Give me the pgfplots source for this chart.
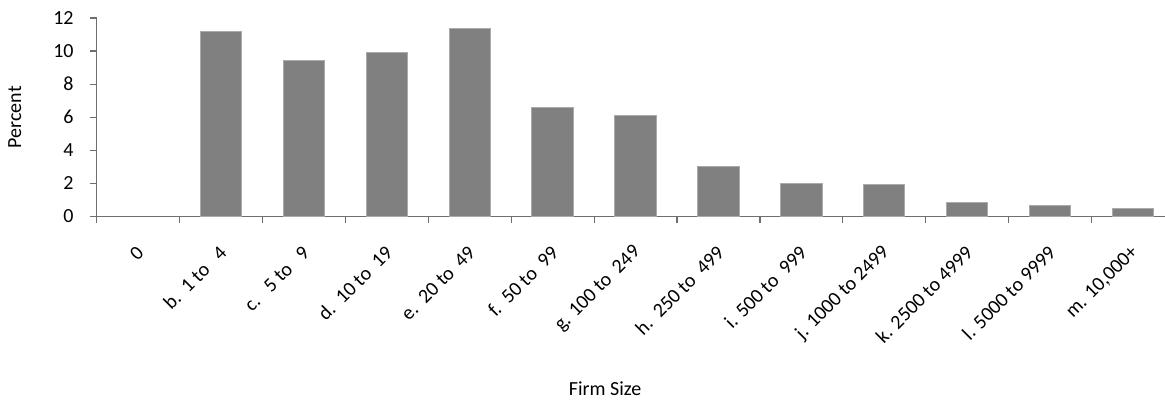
\documentclass[border=0pt]{standalone}
\usepackage{fontspec}
\setmainfont{Carlito}
\usepackage{pgfplots}
\pgfplotsset{compat=1.18}

\definecolor{barfill}{RGB}{128,128,128}
\definecolor{baredge}{RGB}{170,170,170}
\definecolor{axisgray}{RGB}{110,110,110}

\begin{document}
\begin{tikzpicture}
% page frame: the reference crops the axis on the right
\path[use as bounding box] (-48.35pt,-96pt) rectangle (534.15pt,108.2pt);
\begin{axis}[
  scale only axis,
  at={(0,0)}, anchor=south west,
  width=538.85pt, height=99.2pt,
  xmin=-0.5, xmax=12.5,
  ymin=0, ymax=12,
  axis lines=left,
  axis line style={-, axisgray, line width=0.6pt},
  ytick={0,2,...,12},
  xtick={0,...,12},
  xticklabels={0, b.~~1 to~~~4, c.~~~5 to~~~9, d.~~10 to~~19, e.~~20 to~~49,
    f.~~50 to~~99, g. 100 to~~249, h.~~250 to~~499, i. 500 to~~999,
    j. 1000 to 2499, k. 2500 to 4999, l. 5000 to 9999, {m. 10,000+}},
  major x tick style={draw=none},
  minor xtick={-0.5,0.5,...,12.5},
  minor x tick style={axisgray, line width=0.6pt},
  minor tick length=3.5pt,
  major tick length=3.5pt,
  tick align=outside,
  tick style={axisgray, line width=0.6pt},
  xticklabel style={xshift=3.5pt, rotate=45, anchor=east, font=\fontsize{10}{12}\selectfont},
  xticklabel shift=10.5pt,
  yticklabel style={xshift=-4.5pt, font=\fontsize{10}{12}\selectfont},
  /pgf/number format/assume math mode=true,
  ylabel={Percent},
  ylabel style={at={(axis description cs:-0.0761,0.5)}, anchor=center, font=\fontsize{10}{12}\selectfont},
  xlabel={Firm Size},
  xlabel style={at={(axis description cs:0.4717,-0.869)}, anchor=center, font=\fontsize{10}{12}\selectfont},
  ybar,
  bar width=0.5,
]
\addplot[fill=barfill, draw=baredge, line width=0.5pt] coordinates {
  (1,11.19) (2,9.40) (3,9.90) (4,11.35) (5,6.58) (6,6.12)
  (7,3.01) (8,2.02) (9,1.92) (10,0.85) (11,0.67) (12,0.50)
};
\end{axis}
\end{tikzpicture}
\end{document}
